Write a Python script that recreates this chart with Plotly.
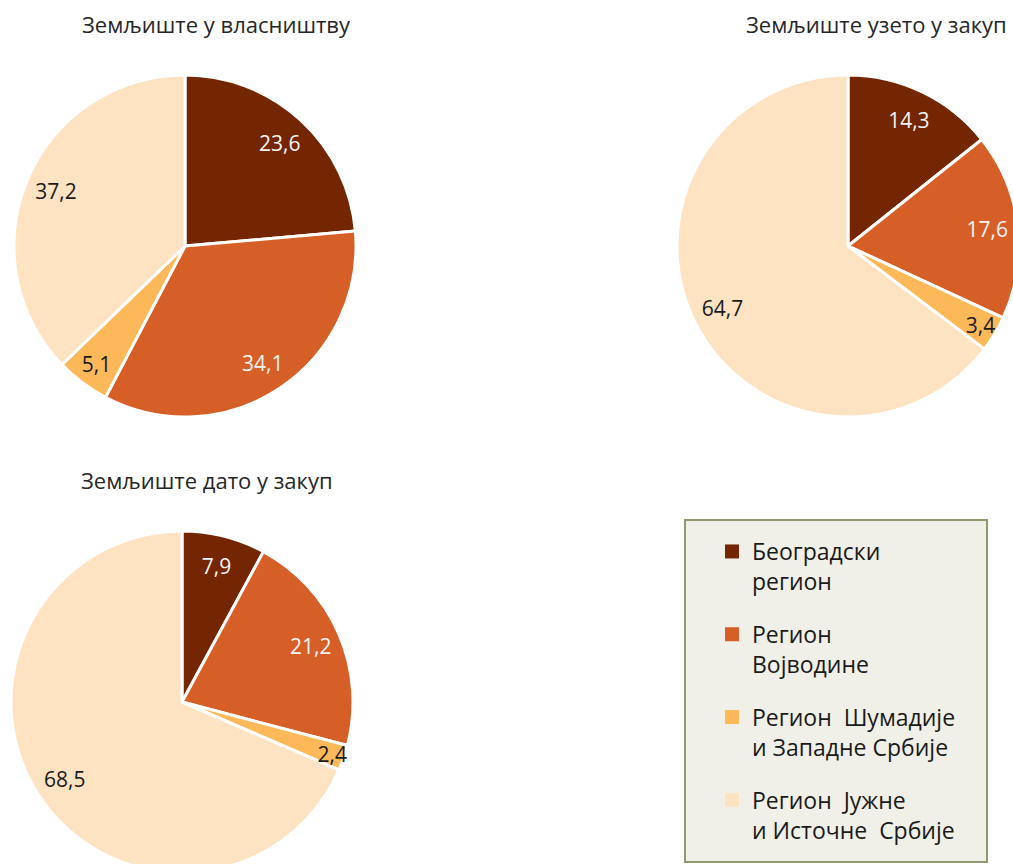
import plotly.graph_objects as go

# регији и вредности (%)
regioni = ["Београдски регион", "Регион Војводине",
           "Регион Шумадије и Западне Србије", "Регион Јужне и Источне Србије"]
legenda = ["Београдски<br>регион", "Регион<br>Војводине",
           "Регион  Шумадије<br>и Западне Србије", "Регион  Јужне<br>и Источне  Србије"]
boje = ["#732600", "#D65F27", "#FDB85A", "#FEE3C3"]
boje_teksta = ["#F4F4F4", "#F4F4F4", "#1A1A1A", "#1A1A1A"]

naslovi = ["Земљиште у власништву", "Земљиште узето у закуп", "Земљиште дато у закуп"]
u_vlasnistvu = [23.6, 34.1, 5.1, 37.2]
uzeto_u_zakup = [14.3, 17.6, 3.4, 64.7]
dato_u_zakup = [7.9, 21.2, 2.4, 68.5]

W, H = 1020, 876
FONT = "Open Sans"


def px_x(a, b):
    return [a / W, b / W]


def px_y(top, bottom):
    return [1 - bottom / H, 1 - top / H]


# (вредности, домен x, домен y, центар наслова)
pite = [
    (u_vlasnistvu, px_x(14, 356), px_y(75, 417), (216, 24)),
    (uzeto_u_zakup, px_x(677, 1019), px_y(75, 417), (876, 24)),
    (dato_u_zakup, px_x(11, 353), px_y(531, 873), (207, 480)),
]

fig = go.Figure()

for vrednosti, dx, dy, _ in pite:
    fig.add_trace(go.Pie(
        labels=regioni, values=vrednosti, sort=False, direction="clockwise",
        rotation=0, domain=dict(x=dx, y=dy),
        marker=dict(colors=boje, line=dict(color="white", width=3)),
        textinfo="none", hoverinfo="label+value", showlegend=False,
    ))
    # прозирни прстен само за ознаке вредности
    fig.add_trace(go.Pie(
        labels=regioni, values=vrednosti, sort=False, direction="clockwise",
        rotation=0, domain=dict(x=dx, y=dy), hole=0.64,
        marker=dict(colors=["rgba(0,0,0,0)"] * 4, line=dict(width=0)),
        texttemplate="%{value:.1f}", textposition="inside",
        insidetextorientation="horizontal",
        textfont=dict(family=FONT, size=21, color=boje_teksta),
        hoverinfo="skip", showlegend=False,
    ))

# легенда
for naziv, boja in zip(legenda, boje):
    fig.add_trace(go.Scatter(
        x=[None], y=[None], mode="markers", name=naziv, legendgroup=naziv,
        marker=dict(symbol="square", size=14, color=boja),
    ))

for naslov, (_, _, _, (tx, ty)) in zip(naslovi, pite):
    fig.add_annotation(
        text=naslov, x=tx / W, y=1 - ty / H, xref="paper", yref="paper",
        showarrow=False, xanchor="center", yanchor="middle",
        font=dict(family=FONT, size=22, color="#262626"),
    )

fig.add_shape(
    type="rect", xref="paper", yref="paper", layer="below",
    x0=685 / W, x1=987 / W, y0=1 - 862 / H, y1=1 - 520 / H,
    fillcolor="#F1F0E8", line=dict(color="#8E9A6B", width=2),
)

fig.update_layout(
    width=W, height=H,
    margin=dict(l=0, r=0, t=0, b=0),
    paper_bgcolor="white", plot_bgcolor="white",
    separators=", ",
    uniformtext=dict(minsize=21, mode="show"),
    xaxis=dict(visible=False), yaxis=dict(visible=False),
    legend=dict(
        x=712 / W, y=1 - 530 / H, xanchor="left", yanchor="top",
        bgcolor="rgba(0,0,0,0)", borderwidth=0, valign="top",
        tracegroupgap=20, font=dict(family=FONT, size=23, color="#1A1A1A"),
    ),
)

fig.write_html(
    "out.html",
    config={"displayModeBar": False},
    post_script="document.body.style.margin='0';document.body.style.overflow='hidden';",
)
